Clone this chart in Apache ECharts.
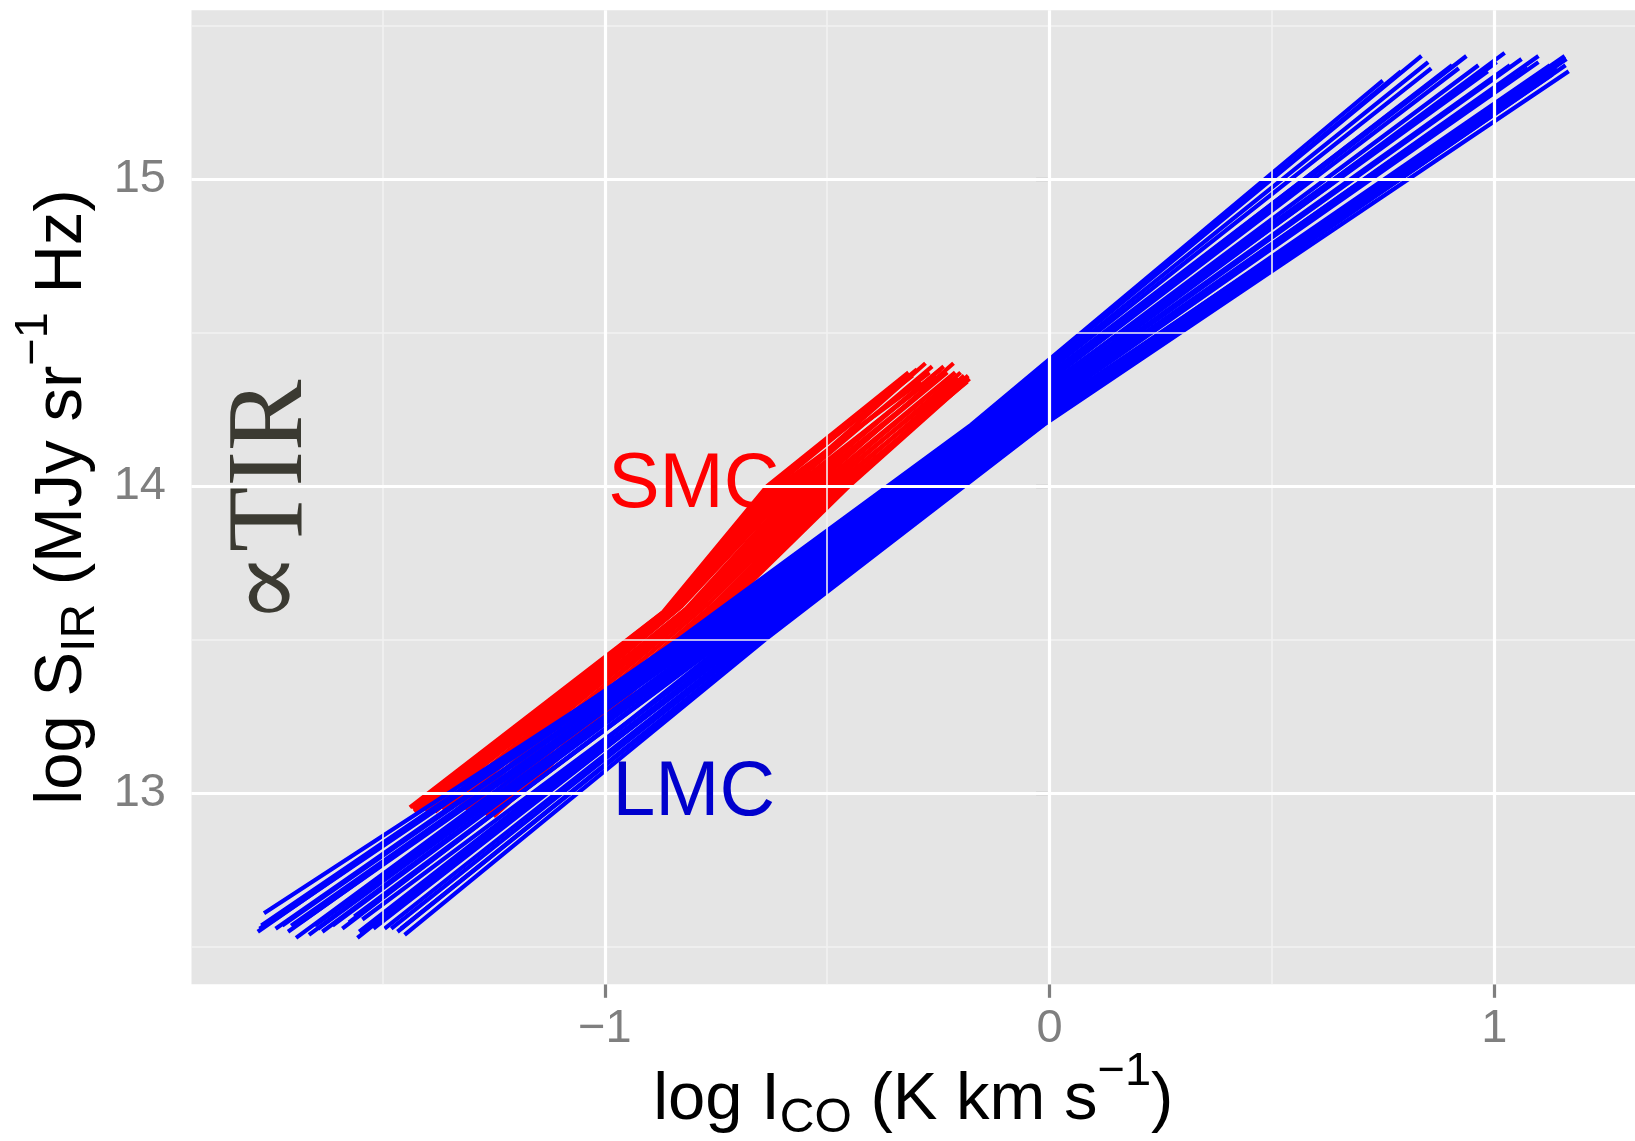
<!DOCTYPE html>
<html>
<head>
<meta charset="utf-8">
<script src="https://cdn.jsdelivr.net/npm/echarts@6/dist/echarts.min.js"></script>
<style>
  html, body { margin: 0; padding: 0; background: #ffffff; }
  #chart { width: 1635px; height: 1141px; }
</style>
</head>
<body>
<div id="chart"></div>
<script>
// Axis ticks and grid positions
const xTicks = [-1, 0, 1];
const xMinorTicks = [-1.5, -0.5, 0.5];
const yTicks = [13, 14, 15];
const yMinorTicks = [12.5, 13.5, 14.5, 15.5];

// SMC relations: each line is [start, knee, knee, end] in (log I_CO, log S_IR)
const smcLines = [
  [[-1.438, 12.955], [-0.869, 13.59], [-0.635, 14.00], [-0.317, 14.37]],
  [[-1.432, 12.950], [-0.864, 13.595], [-0.626, 14.00], [-0.308, 14.36]],
  [[-1.428, 12.940], [-0.860, 13.59], [-0.618, 14.00], [-0.298, 14.38]],
  [[-1.415, 12.950], [-0.852, 13.60], [-0.609, 14.00], [-0.290, 14.34]],
  [[-1.410, 12.948], [-0.848, 13.60], [-0.600, 14.00], [-0.270, 14.37]],
  [[-1.404, 12.945], [-0.844, 13.60], [-0.591, 14.00], [-0.279, 14.40]],
  [[-1.393, 12.950], [-0.836, 13.60], [-0.583, 14.00], [-0.264, 14.39]],
  [[-1.382, 12.940], [-0.827, 13.61], [-0.574, 14.00], [-0.255, 14.36]],
  [[-1.371, 12.955], [-0.818, 13.60], [-0.565, 14.00], [-0.245, 14.38]],
  [[-1.366, 12.950], [-0.813, 13.605], [-0.556, 14.00], [-0.238, 14.39]],
  [[-1.360, 12.945], [-0.808, 13.61], [-0.548, 14.00], [-0.245, 14.355]],
  [[-1.349, 12.950], [-0.798, 13.61], [-0.539, 14.00], [-0.230, 14.37]],
  [[-1.338, 12.940], [-0.788, 13.61], [-0.530, 14.00], [-0.216, 14.40]],
  [[-1.332, 12.945], [-0.782, 13.615], [-0.521, 14.00], [-0.212, 14.37]],
  [[-1.326, 12.950], [-0.777, 13.62], [-0.513, 14.00], [-0.223, 14.355]],
  [[-1.312, 12.945], [-0.765, 13.62], [-0.504, 14.00], [-0.205, 14.35]],
  [[-1.298, 12.940], [-0.752, 13.62], [-0.495, 14.00], [-0.200, 14.37]],
  [[-1.290, 12.938], [-0.745, 13.62], [-0.486, 14.00], [-0.195, 14.345]],
  [[-1.283, 12.935], [-0.739, 13.62], [-0.478, 14.00], [-0.192, 14.36]],
  [[-1.268, 12.930], [-0.726, 13.63], [-0.469, 14.00], [-0.185, 14.34]],
  [[-1.260, 12.928], [-0.719, 13.63], [-0.460, 14.00], [-0.183, 14.36]],
  [[-1.250, 12.925], [-0.712, 13.63], [-0.451, 14.00], [-0.180, 14.35]]
];

// LMC relations: each line is [start, knee, knee, end] in (log I_CO, log S_IR)
const lmcLines = [
  [[-1.780, 12.55], [-0.835, 13.50], [-0.176, 14.20], [0.749, 15.32]],
  [[-1.776, 12.56], [-0.832, 13.50], [-0.173, 14.20], [0.790, 15.35]],
  [[-1.772, 12.57], [-0.828, 13.50], [-0.170, 14.20], [0.836, 15.40]],
  [[-1.766, 12.61], [-0.822, 13.50], [-0.164, 14.20], [0.851, 15.38]],
  [[-1.752, 12.58], [-0.815, 13.50], [-0.157, 14.20], [0.858, 15.36]],
  [[-1.740, 12.56], [-0.808, 13.50], [-0.150, 14.20], [0.872, 15.33]],
  [[-1.725, 12.57], [-0.800, 13.50], [-0.143, 14.20], [0.905, 15.37]],
  [[-1.712, 12.55], [-0.792, 13.50], [-0.136, 14.20], [0.937, 15.40]],
  [[-1.705, 12.57], [-0.788, 13.50], [-0.132, 14.20], [0.920, 15.36]],
  [[-1.694, 12.53], [-0.784, 13.50], [-0.128, 14.20], [0.948, 15.32]],
  [[-1.684, 12.58], [-0.776, 13.50], [-0.120, 14.20], [0.964, 15.37]],
  [[-1.665, 12.54], [-0.768, 13.50], [-0.112, 14.20], [0.985, 15.35]],
  [[-1.652, 12.57], [-0.760, 13.50], [-0.104, 14.20], [1.023, 15.41]],
  [[-1.645, 12.56], [-0.756, 13.50], [-0.100, 14.20], [1.005, 15.38]],
  [[-1.635, 12.55], [-0.752, 13.50], [-0.096, 14.20], [1.035, 15.37]],
  [[-1.612, 12.57], [-0.744, 13.50], [-0.089, 14.20], [1.061, 15.39]],
  [[-1.590, 12.56], [-0.736, 13.50], [-0.082, 14.20], [1.045, 15.34]],
  [[-1.575, 12.58], [-0.731, 13.50], [-0.078, 14.20], [1.075, 15.36]],
  [[-1.563, 12.60], [-0.727, 13.50], [-0.074, 14.20], [1.099, 15.40]],
  [[-1.556, 12.53], [-0.718, 13.50], [-0.066, 14.20], [1.099, 15.38]],
  [[-1.552, 12.55], [-0.709, 13.50], [-0.058, 14.20], [1.100, 15.33]],
  [[-1.545, 12.59], [-0.700, 13.50], [-0.050, 14.20], [1.125, 15.37]],
  [[-1.530, 12.57], [-0.691, 13.50], [-0.043, 14.20], [1.158, 15.40]],
  [[-1.520, 12.56], [-0.686, 13.50], [-0.040, 14.20], [1.110, 15.35]],
  [[-1.512, 12.58], [-0.682, 13.50], [-0.036, 14.20], [1.162, 15.39]],
  [[-1.495, 12.56], [-0.672, 13.50], [-0.029, 14.20], [1.140, 15.36]],
  [[-1.480, 12.56], [-0.662, 13.50], [-0.022, 14.20], [1.150, 15.38]],
  [[-1.466, 12.55], [-0.651, 13.50], [-0.017, 14.20], [1.160, 15.37]],
  [[-1.458, 12.56], [-0.646, 13.50], [-0.015, 14.20], [1.130, 15.34]],
  [[-1.450, 12.54], [-0.640, 13.50], [-0.013, 14.20], [1.167, 15.35]]
];

// Galaxy labels placed in data coordinates
const galaxyLabels = [
  { name: 'SMC', x: -0.8, y: 14.0, color: '#FF0000' },
  { name: 'LMC', x: -0.8, y: 13.0, color: '#0000CD' }
];

const SANS = '"Liberation Sans", Arial, Helvetica, sans-serif';
const SERIF = '"Liberation Serif", "DejaVu Serif", "Times New Roman", serif';
const TICK_GREY = '#7F7F7F';
const LINE_W = 4.2;

const fmtTick = v => (v < 0 ? '\u2212' + Math.abs(v) : String(v));

// Panel grid lines drawn as mark lines so they sit under the data
const gridMarks = [];
xMinorTicks.forEach(v => gridMarks.push({ xAxis: v, lineStyle: { color: '#F2F2F2', width: 1.6, type: 'solid' } }));
yMinorTicks.forEach(v => gridMarks.push({ yAxis: v, lineStyle: { color: '#F2F2F2', width: 1.6, type: 'solid' } }));
xTicks.forEach(v => gridMarks.push({ xAxis: v, lineStyle: { color: '#FFFFFF', width: 3.2, type: 'solid' } }));
yTicks.forEach(v => gridMarks.push({ yAxis: v, lineStyle: { color: '#FFFFFF', width: 3.2, type: 'solid' } }));

const series = [];
series.push({
  type: 'line',
  data: [],
  silent: true,
  z: 1,
  markLine: {
    silent: true,
    animation: false,
    symbol: ['none', 'none'],
    label: { show: false },
    emphasis: { disabled: true },
    data: gridMarks
  }
});

smcLines.forEach(pts => series.push({
  type: 'line',
  data: pts,
  showSymbol: false,
  symbol: 'none',
  silent: true,
  z: 2,
  lineStyle: { color: '#FF0000', width: LINE_W, cap: 'butt', join: 'round' }
}));

lmcLines.forEach(pts => series.push({
  type: 'line',
  data: pts,
  showSymbol: false,
  symbol: 'none',
  silent: true,
  z: 3,
  lineStyle: { color: '#0000FF', width: LINE_W, cap: 'butt', join: 'round' }
}));

series.push({
  type: 'scatter',
  symbolSize: 0,
  silent: true,
  z: 5,
  itemStyle: { opacity: 1 },
  data: galaxyLabels.map(g => ({
    value: [g.x, g.y],
    label: {
      show: true,
      position: 'inside',
      formatter: g.name,
      color: g.color,
      opacity: 1,
      textBorderWidth: 0,
      fontSize: 77,
      fontFamily: SANS
    }
  }))
});

const titleRich = {
  m: { fontSize: 67, fontFamily: SANS, color: '#000', padding: [18, 0, 0, 0], verticalAlign: 'top' },
  s: { fontSize: 48, fontFamily: SANS, color: '#000', padding: [46, 0, 0, 0], verticalAlign: 'top' },
  p: { fontSize: 47, fontFamily: SANS, color: '#000', padding: [0, 0, 0, 0], verticalAlign: 'top' }
};

const chart = echarts.init(document.getElementById('chart'), null, { renderer: 'canvas' });
chart.setOption({
  animation: false,
  backgroundColor: '#FFFFFF',
  grid: {
    left: 191.5, right: 0, top: 10.2, bottom: 156.7,
    show: true, backgroundColor: '#E5E5E5', borderWidth: 0,
    containLabel: false, outerBoundsMode: 'none'
  },
  xAxis: {
    type: 'value',
    min: -1.929, max: 1.316,
    axisLine: { show: false },
    splitLine: { show: false },
    axisTick: { show: true, customValues: xTicks, length: 13.5, lineStyle: { color: TICK_GREY, width: 3.2 } },
    axisLabel: {
      show: true, customValues: xTicks, formatter: fmtTick,
      color: TICK_GREY, fontSize: 47, fontFamily: SANS, margin: 21, lineHeight: 47
    }
  },
  yAxis: {
    type: 'value',
    min: 12.379, max: 15.549,
    axisLine: { show: false },
    splitLine: { show: false },
    axisTick: { show: true, customValues: yTicks, length: 13.5, lineStyle: { color: TICK_GREY, width: 3.2 } },
    axisLabel: {
      show: true, customValues: yTicks, formatter: fmtTick,
      color: TICK_GREY, fontSize: 47, fontFamily: SANS, margin: 25.5
    }
  },
  graphic: [
    {
      type: 'text',
      x: 913.25, y: 1049,
      silent: true,
      style: {
        text: '{m|log I}{s|CO}{m| (K km s}{p|\u22121}{m|)}',
        align: 'center', verticalAlign: 'top',
        rich: titleRich
      }
    },
    {
      type: 'text',
      x: 11, y: 497,
      rotation: Math.PI / 2,
      silent: true,
      style: {
        text: '{m|log S}{s|IR}{m| (MJy sr}{p|\u22121}{m| Hz)}',
        align: 'center', verticalAlign: 'top',
        rich: titleRich
      }
    },
    {
      type: 'text',
      x: 273, y: 502,
      rotation: Math.PI / 2,
      silent: true,
      z: 10,
      style: {
        text: '\u221DTIR',
        align: 'center', verticalAlign: 'middle',
        font: '107px ' + SERIF,
        fill: '#3B3A32'
      }
    }
  ],
  series: series
});
</script>
</body>
</html>
